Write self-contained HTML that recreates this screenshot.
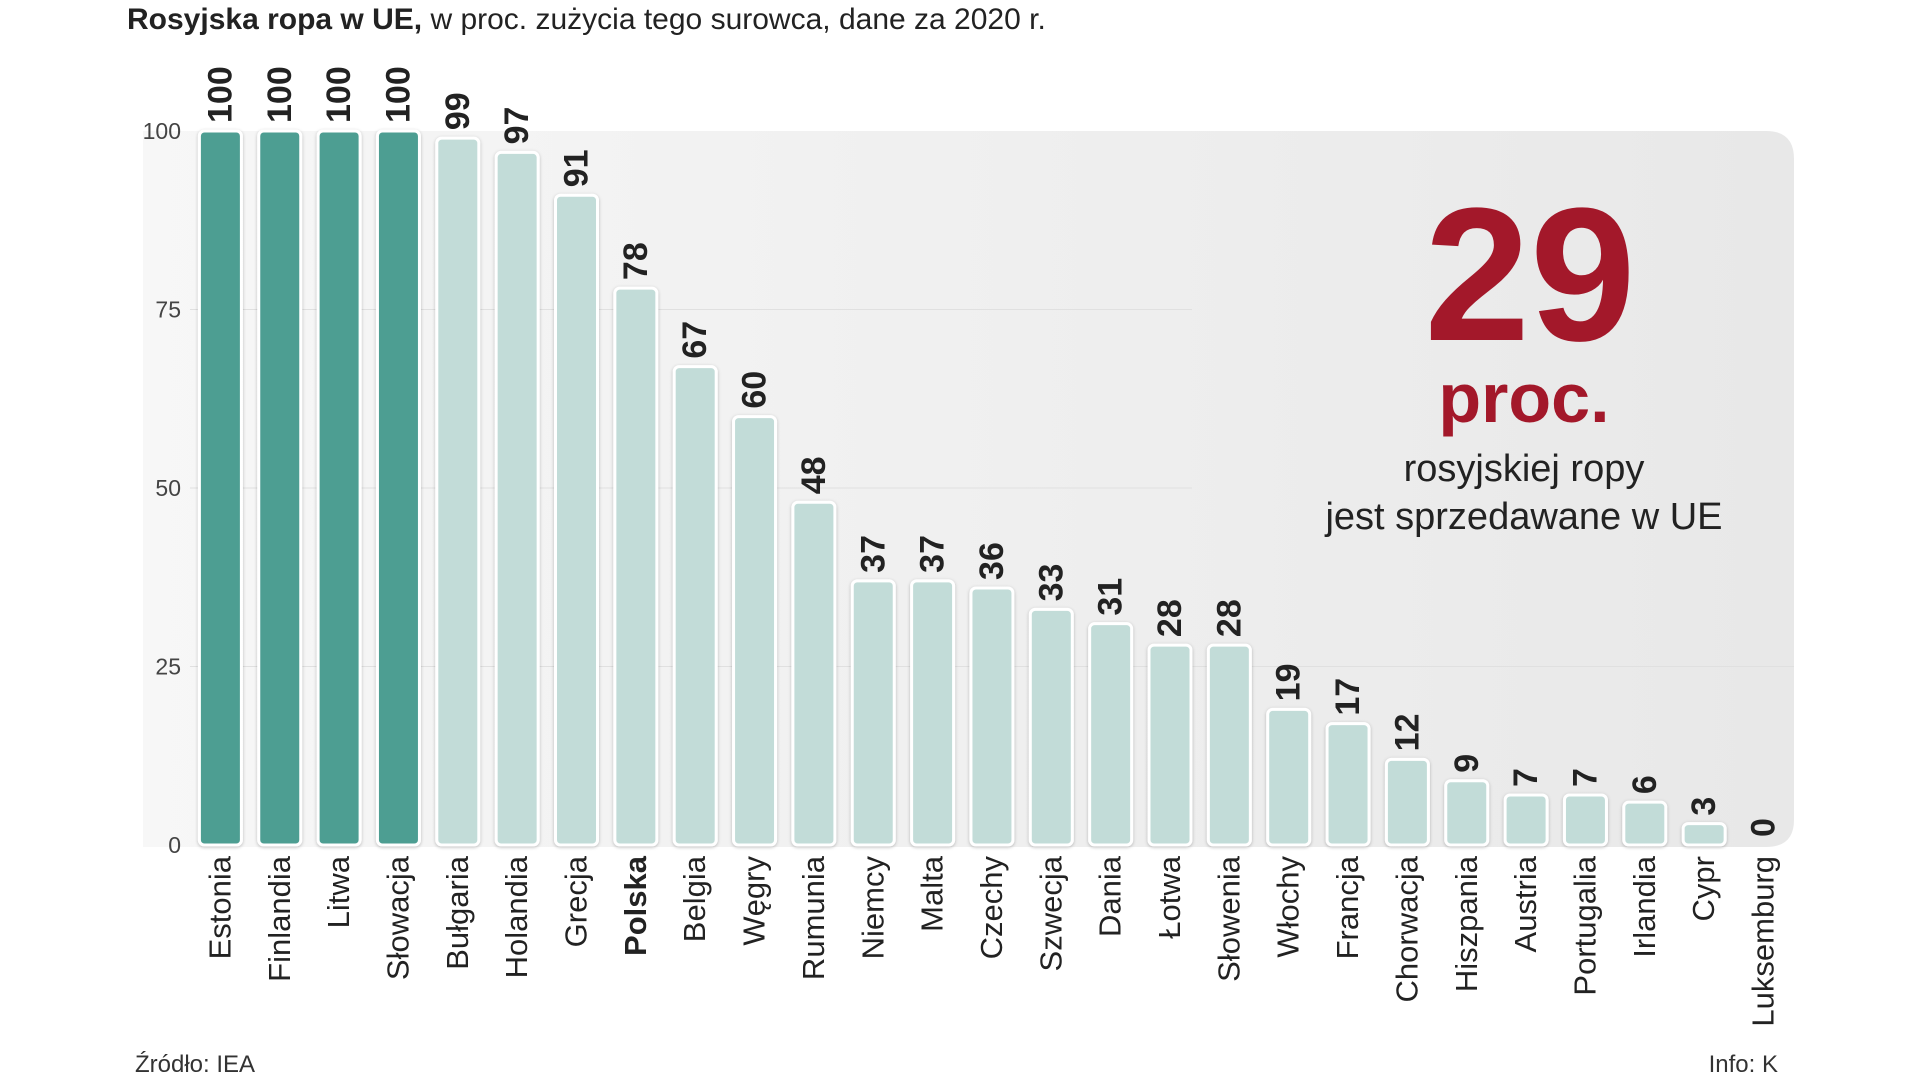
<!DOCTYPE html>
<html><head><meta charset="utf-8"><style>
html,body{margin:0;padding:0;background:#fff;}
svg{display:block;font-family:"Liberation Sans Narrow","Liberation Sans",sans-serif;}
</style></head><body>
<svg id="chart" width="1920" height="1080" viewBox="0 0 1920 1080" xmlns="http://www.w3.org/2000/svg">
<defs><linearGradient id="bg" x1="0" x2="1" y1="0" y2="0"><stop offset="0" stop-color="#f7f7f7"/><stop offset="1" stop-color="#e8e8e8"/></linearGradient>
<filter id="sh" x="-20%" y="-20%" width="140%" height="140%"><feDropShadow dx="0" dy="1" stdDeviation="1.5" flood-color="#000" flood-opacity="0.25"/></filter></defs>
<path d="M143 131 H1766 Q1794 131 1794 159 V820 Q1794 847 1766 847 H143 Z" fill="url(#bg)"/>
<text x="127" y="29" font-size="30" fill="#222"><tspan font-weight="bold">Rosyjska ropa w UE,</tspan> w proc. zużycia tego surowca, dane za 2020 r.</text>
<g id="grid"></g><g id="bars"></g>
<g fill="#a3182a" text-anchor="middle">
<text x="1530" y="340" font-size="190" font-weight="bold">29</text>
<text x="1524" y="422" font-size="70" font-weight="bold">proc.</text>
<text x="1524" y="481" font-size="38" fill="#222">rosyjskiej ropy</text>
<text x="1524" y="529" font-size="38" fill="#222">jest sprzedawane w UE</text>
</g>
<text x="135" y="1072" font-size="24" fill="#333">Źródło: IEA</text>
<text x="1778" y="1072" font-size="24" fill="#333" text-anchor="end">Info: K</text>
</svg>
<script>
const categories=["Estonia","Finlandia","Litwa","Słowacja","Bułgaria","Holandia","Grecja","Polska","Belgia","Węgry","Rumunia","Niemcy","Malta","Czechy","Szwecja","Dania","Łotwa","Słowenia","Włochy","Francja","Chorwacja","Hiszpania","Austria","Portugalia","Irlandia","Cypr","Luksemburg"];
const values=[100,100,100,100,99,97,91,78,67,60,48,37,37,36,33,31,28,28,19,17,12,9,7,7,6,3,0];
const yTicks=[0,25,50,75,100];
const highlightCount=4;
const NS="http://www.w3.org/2000/svg";
const y0=845,yTop=131;
const yScale=v=>y0-(v/100)*(y0-yTop);
const xScale=i=>220.4+i*59.35;
const bw=42;
const grid=document.getElementById('grid'),bars=document.getElementById('bars');
function mk(tag,attrs,parent){const e=document.createElementNS(NS,tag);for(const k in attrs)e.setAttribute(k,attrs[k]);parent.appendChild(e);return e;}
yTicks.forEach(t=>{
  const y=yScale(t);
  if(t>0&&t<100){
    const l=mk('line',{x1:190,x2:t===25?1794:1192,y1:y,y2:y,stroke:'#e0e0e0','stroke-width':1},grid);
    
    
  }
  const tx=mk('text',{x:181,y:y+8,'font-size':23,fill:'#444','text-anchor':'end'},grid);
  tx.textContent=t;
  
  
});
categories.forEach((c,i)=>{
  const v=values[i],cx=xScale(i),y=yScale(v),h=y0-y;
  if(v>0){
    const r=mk('rect',{x:cx-bw/2,y:y,width:bw,height:Math.max(h,4),rx:5,fill:i<highlightCount?'#4e9e92':'#c2dcd8',stroke:'#fff','stroke-width':3,filter:'url(#sh)'},bars);
    
    
  }
  const vl=mk('text',{transform:`translate(${cx+11},${y-8}) rotate(-90)`,'font-size':34,'font-weight':'bold',fill:'#222'},bars);
  vl.textContent=v;
  
  
  const cl=mk('text',{transform:`translate(${cx+10},${856}) rotate(-90)`,'font-size':31,fill:'#222','text-anchor':'end','font-weight':c==='Polska'?'bold':'normal'},bars);
  cl.textContent=c;
  
  
});
</script>
</body></html>
